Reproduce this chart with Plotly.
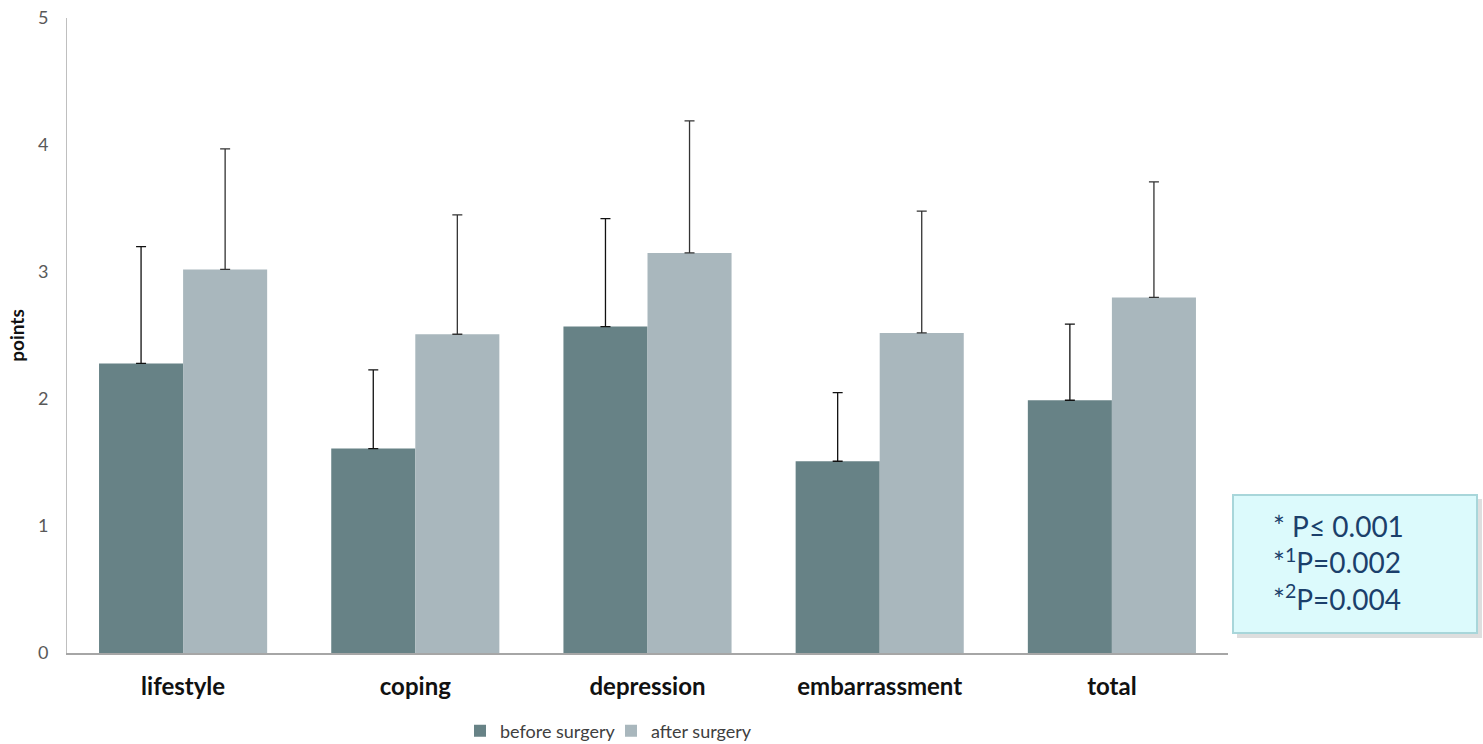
import plotly.graph_objects as go

categories = ["lifestyle", "coping", "depression", "embarrassment", "total"]
before_mean = [2.28, 1.61, 2.57, 1.51, 1.99]
before_sd = [0.92, 0.62, 0.85, 0.54, 0.60]
after_mean = [3.02, 2.51, 3.15, 2.52, 2.80]
after_sd = [0.95, 0.94, 1.04, 0.96, 0.91]
y_ticks = [0, 1, 2, 3, 4, 5]
note_lines = ["* P\u2264 0.001", "*<sup>1</sup>P=0.002", "*<sup>2</sup>P=0.004"]

FONT = "Lato, Carlito, Calibri, 'Open Sans', sans-serif"
L, R, T, B = 67, 1228, 18, 653
PW, PH = R - L, B - T


def px(x):
    return (x - L) / PW


def py(y):
    return (B - y) / PH


fig = go.Figure()
fig.add_trace(go.Bar(
    name="before surgery", x=categories, y=before_mean,
    marker=dict(color="#678286", line=dict(width=0)),
    error_y=dict(type="data", array=before_sd, arrayminus=[0]*len(before_sd),
                 symmetric=False, color="#111111", thickness=1.3, width=5),
))
fig.add_trace(go.Bar(
    name="after surgery", x=categories, y=after_mean,
    marker=dict(color="#a9b7bd", line=dict(width=0)),
    error_y=dict(type="data", array=after_sd, arrayminus=[0]*len(after_sd),
                 symmetric=False, color="#333333", thickness=1.3, width=5),
))

# shadow and note box
fig.add_shape(type="rect", xref="paper", yref="paper",
              x0=px(1237), x1=px(1482), y0=py(638), y1=py(499),
              fillcolor="rgba(0,0,0,0.13)", line=dict(width=0), layer="above")
fig.add_shape(type="rect", xref="paper", yref="paper",
              x0=px(1233), x1=px(1477), y0=py(633), y1=py(495),
              fillcolor="#dcfafc", line=dict(color="#a8d6da", width=2), layer="above")
fig.add_annotation(
    xref="paper", yref="paper",
    x=px(1271), y=py(562), xanchor="left", yanchor="middle",
    text="<br>".join(note_lines), showarrow=False, align="left",
    font=dict(family=FONT, size=28, color="#1b3f6b"),
)

fig.update_layout(
    width=1483, height=744,
    margin=dict(l=L, r=1483 - R, t=T, b=744 - B, autoexpand=False),
    plot_bgcolor="white", paper_bgcolor="white",
    barmode="group", bargap=0.276, bargroupgap=0,
    font=dict(family=FONT, color="#595959"),
    showlegend=True,
    legend=dict(orientation="h", x=px(460), xanchor="left",
                y=py(731), yanchor="middle", entrywidth=106,
                font=dict(family=FONT, size=18, color="#404040"),
                traceorder="normal"),
    xaxis=dict(showline=True, linecolor="#a6a6a6", linewidth=1.5, automargin=False,
               ticks="", showgrid=False, ticklabelstandoff=11,
               tickfont=dict(family=FONT, size=24, color="#111111", weight="bold")),
    yaxis=dict(range=[0, 5], tickvals=y_ticks, showline=True, linecolor="#bfbfbf",
               linewidth=1, ticks="", showgrid=False, zeroline=False, automargin=False,
               ticklabelstandoff=14,
               tickfont=dict(family=FONT, size=18, color="#595959"),
               title=dict(text="<b>points</b>", standoff=8,
                          font=dict(family=FONT, size=19, color="#111111"))),
)

fig.write_html("out.html", config={"displayModeBar": False},
               post_script="document.body.style.margin='0px';")
